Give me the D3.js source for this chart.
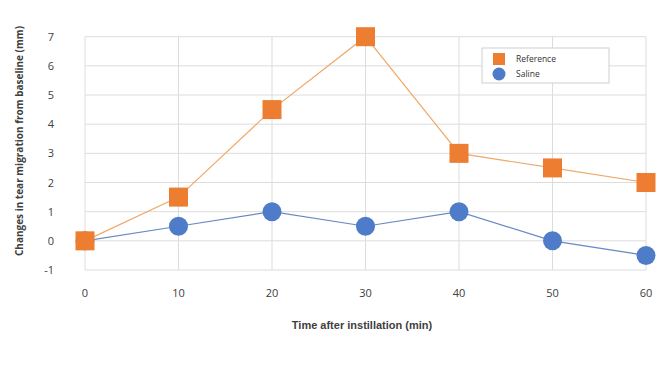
<!DOCTYPE html>
<html>
<head>
<meta charset="utf-8">
<script src="https://cdn.jsdelivr.net/npm/d3@7"></script>
<style>
  body { margin: 0; background: #fff; }
  text { font-family: "Open Sans", "Liberation Sans", sans-serif; }
</style>
</head>
<body>
<div id="chart"></div>
<script>
// data
var times = [0, 10, 20, 30, 40, 50, 60];
var reference = [0, 1.5, 4.5, 7, 3, 2.5, 2];
var saline = [0, 0.5, 1, 0.5, 1, 0, -0.5];
var yTicks = [-1, 0, 1, 2, 3, 4, 5, 6, 7];
var seriesNames = ["Reference", "Saline"];

var w = 665, h = 373;
var colors = { ref: "#ed7d31", refLine: "#f0a868", sal: "#4f7cc8", salLine: "#6a88c4", grid: "#dcdcdc" };

var svg = d3.select("#chart").append("svg")
  .attr("width", w).attr("height", h);

var x = d3.scaleLinear().domain([0, 60]).range([85, 646]);
var y = d3.scaleLinear().domain([-1, 7]).range([270, 36.7]);

// grid
svg.append("g").selectAll("line").data(yTicks).enter().append("line")
  .attr("x1", x(0)).attr("x2", x(60))
  .attr("y1", function(d){ return y(d); }).attr("y2", function(d){ return y(d); })
  .attr("stroke", colors.grid).attr("stroke-width", 1);
svg.append("g").selectAll("line").data(times).enter().append("line")
  .attr("y1", y(-1)).attr("y2", y(7))
  .attr("x1", function(d){ return x(d); }).attr("x2", function(d){ return x(d); })
  .attr("stroke", colors.grid).attr("stroke-width", 1);

// y tick labels
svg.append("g").selectAll("text").data(yTicks).enter().append("text")
  .attr("x", 54).attr("y", function(d){ return y(d) + 4; })
  .attr("text-anchor", "end")
  .attr("font-size", "11px").attr("fill", "#404040")
  .text(function(d){ return d; });

// x tick labels
svg.append("g").selectAll("text").data(times).enter().append("text")
  .attr("x", function(d){ return x(d); }).attr("y", 297)
  .attr("text-anchor", "middle")
  .attr("font-size", "11px").attr("fill", "#404040")
  .text(function(d){ return d; });

// axis titles
svg.append("text")
  .attr("x", 362).attr("y", 329)
  .attr("text-anchor", "middle")
  .attr("font-size", "11px").attr("font-weight", "bold").attr("fill", "#404040")
  .style("font-family", "'Liberation Sans Narrow', 'Liberation Sans', sans-serif")
  .text("Time after instillation (min)");

svg.append("text")
  .attr("transform", "translate(23,141) rotate(-90)")
  .attr("text-anchor", "middle")
  .attr("font-size", "10px").attr("font-weight", "bold").attr("fill", "#404040")
  .text("Changes in tear migration from baseline (mm)");

// lines
var line = d3.line()
  .x(function(d, i){ return x(times[i]); })
  .y(function(d){ return y(d); });

svg.append("path").datum(saline)
  .attr("d", line).attr("fill", "none")
  .attr("stroke", colors.salLine).attr("stroke-width", 1.2);
svg.append("path").datum(reference)
  .attr("d", line).attr("fill", "none")
  .attr("stroke", colors.refLine).attr("stroke-width", 1.2);

// markers
svg.append("g").selectAll("circle").data(saline).enter().append("circle")
  .attr("cx", function(d, i){ return x(times[i]); })
  .attr("cy", function(d){ return y(d); })
  .attr("r", 9.5)
  .attr("fill", colors.sal);

svg.append("g").selectAll("rect").data(reference).enter().append("rect")
  .attr("x", function(d, i){ return x(times[i]) - 9.5; })
  .attr("y", function(d){ return y(d) - 9.5; })
  .attr("width", 19).attr("height", 19)
  .attr("fill", colors.ref);

// legend
var lg = svg.append("g");
lg.append("rect")
  .attr("x", 482).attr("y", 48).attr("width", 127).attr("height", 35)
  .attr("fill", "#fff").attr("stroke", "#cfcfcf").attr("stroke-width", 1);
lg.append("rect")
  .attr("x", 493).attr("y", 53).attr("width", 12).attr("height", 12)
  .attr("fill", colors.ref);
lg.append("circle")
  .attr("cx", 499).attr("cy", 74).attr("r", 6.5)
  .attr("fill", colors.sal);
lg.selectAll("text.lbl").data(seriesNames).enter().append("text")
  .attr("class", "lbl")
  .attr("x", 516).attr("y", function(d, i){ return 62 + i * 15; })
  .attr("font-size", "8.5px").attr("fill", "#333")
  .text(function(d){ return d; });
</script>
</body>
</html>
